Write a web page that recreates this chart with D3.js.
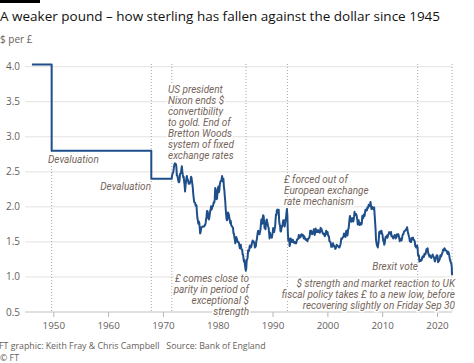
<!DOCTYPE html>
<html><head><meta charset="utf-8">
<script src="https://cdn.jsdelivr.net/npm/d3@7"></script>
<style>
html,body{margin:0;padding:0;background:#fff;}
svg{display:block;font-family:"Open Sans","Noto Sans",sans-serif;}
</style></head>
<body><svg id="c" width="474" height="363"></svg>
<script>
// ---- data ----
const fixedYears = [1946.1, 1949.7, 1949.7, 1967.88, 1967.88, 1971.6];
const fixedRates = [4.03, 4.03, 2.80, 2.80, 2.40, 2.40];
const floatStartYear = 1971.62; // monthly values from Aug 1971
const monthlyRates = [
 2.42,2.46,2.48,2.49,2.53,
 2.58,2.61,2.62,2.61,2.61,2.57,2.45,2.45,2.42,2.38,2.35,2.35,
 2.38,2.47,2.48,2.48,2.53,2.58,2.51,2.46,2.42,2.43,2.36,2.31,
 2.22,2.30,2.36,2.41,2.44,2.39,2.39,2.36,2.33,2.34,2.33,2.35,
 2.37,2.43,2.42,2.37,2.32,2.27,2.18,2.12,2.07,2.06,2.06,2.02,
 2.03,2.02,1.92,1.84,1.81,1.76,1.79,1.78,1.71,1.62,1.64,1.68,
 1.71,1.71,1.72,1.72,1.72,1.72,1.72,1.74,1.74,1.77,1.82,1.86,
 1.94,1.94,1.91,1.84,1.82,1.84,1.89,1.94,1.96,2.01,1.96,1.98,
 2.01,2.01,2.04,2.07,2.06,2.11,2.27,2.24,2.20,2.11,2.12,2.20,
 2.27,2.29,2.21,2.23,2.31,2.35,2.37,2.37,2.39,2.44,2.40,2.36,
 2.40,2.29,2.24,2.15,2.08,1.97,1.89,1.82,1.81,1.84,1.92,1.91,
 1.88,1.84,1.81,1.77,1.80,1.74,1.73,1.72,1.71,1.70,1.62,1.62,
 1.57,1.53,1.48,1.54,1.57,1.55,1.53,1.50,1.50,1.50,1.48,1.44,
 1.41,1.44,1.46,1.41,1.39,1.39,1.32,1.32,1.26,1.22,1.24,1.18,
 1.13,1.09,1.12,1.24,1.25,1.28,1.38,1.38,1.37,1.42,1.45,1.44,
 1.42,1.43,1.47,1.50,1.52,1.51,1.51,1.49,1.47,1.42,1.43,1.44,
 1.51,1.53,1.58,1.63,1.66,1.63,1.61,1.61,1.64,1.67,1.75,1.82,
 1.79,1.76,1.84,1.88,1.87,1.79,1.70,1.70,1.68,1.74,1.81,1.82,
 1.78,1.75,1.72,1.70,1.63,1.55,1.63,1.59,1.57,1.58,1.56,1.60,
 1.64,1.70,1.64,1.64,1.68,1.71,1.80,1.89,1.88,1.95,1.96,1.92,
 1.94,1.96,1.80,1.75,1.73,1.65,1.65,1.69,1.73,1.72,1.77,1.81,
 1.81,1.77,1.72,1.76,1.81,1.84,1.91,1.97,1.88,1.64,1.52,1.55,
 1.54,1.44,1.47,1.55,1.54,1.52,1.50,1.50,1.53,1.50,1.49,1.49,
 1.50,1.48,1.49,1.48,1.50,1.53,1.54,1.54,1.55,1.60,1.59,1.56,
 1.58,1.57,1.60,1.61,1.59,1.59,1.60,1.57,1.55,1.58,1.56,1.54,
 1.53,1.54,1.53,1.52,1.51,1.54,1.55,1.55,1.56,1.59,1.66,1.66,
 1.66,1.63,1.61,1.63,1.63,1.65,1.68,1.61,1.60,1.63,1.69,1.66,
 1.64,1.64,1.66,1.67,1.64,1.65,1.65,1.63,1.68,1.70,1.66,1.68,
 1.65,1.63,1.62,1.61,1.62,1.60,1.58,1.61,1.63,1.66,1.62,1.61,
 1.64,1.60,1.58,1.58,1.51,1.51,1.50,1.48,1.43,1.45,1.43,1.46,
 1.48,1.45,1.45,1.43,1.42,1.40,1.41,1.44,1.46,1.45,1.44,1.44,
 1.43,1.42,1.42,1.44,1.46,1.49,1.55,1.54,1.55,1.56,1.57,1.58,
 1.62,1.61,1.58,1.57,1.62,1.66,1.62,1.59,1.61,1.68,1.69,1.75,
 1.82,1.87,1.83,1.80,1.79,1.83,1.84,1.82,1.79,1.81,1.86,1.93,
 1.88,1.89,1.90,1.89,1.86,1.82,1.75,1.79,1.81,1.76,1.74,1.75,
 1.77,1.75,1.75,1.77,1.87,1.85,1.84,1.89,1.88,1.87,1.92,1.96,
 1.95,1.96,1.95,1.99,1.98,1.99,2.03,2.01,2.02,2.04,2.07,2.02,
 1.97,1.97,2.00,1.98,1.97,1.97,1.99,1.89,1.79,1.69,1.53,1.49,
 1.45,1.44,1.42,1.47,1.52,1.64,1.64,1.65,1.63,1.62,1.66,1.62,
 1.61,1.56,1.51,1.53,1.46,1.48,1.53,1.57,1.56,1.58,1.59,1.56,
 1.58,1.61,1.62,1.64,1.63,1.62,1.61,1.64,1.58,1.58,1.58,1.56,
 1.55,1.58,1.58,1.60,1.59,1.55,1.56,1.57,1.61,1.61,1.59,1.61,
 1.58,1.55,1.51,1.53,1.53,1.55,1.52,1.55,1.59,1.61,1.61,1.64,
 1.65,1.66,1.66,1.67,1.68,1.69,1.71,1.67,1.63,1.61,1.58,1.56,
 1.51,1.53,1.50,1.50,1.55,1.56,1.55,1.56,1.53,1.53,1.52,1.50,
 1.44,1.43,1.42,1.43,1.45,1.42,1.31,1.31,1.31,1.22,1.24,1.24,
 1.23,1.25,1.24,1.27,1.29,1.28,1.30,1.29,1.33,1.32,1.32,1.34,
 1.38,1.40,1.40,1.41,1.35,1.33,1.31,1.29,1.31,1.30,1.29,1.27,
 1.29,1.30,1.32,1.30,1.29,1.27,1.25,1.22,1.24,1.27,1.29,1.31,
 1.31,1.29,1.21,1.24,1.23,1.25,1.26,1.31,1.29,1.30,1.32,1.34,
 1.36,1.39,1.39,1.38,1.41,1.40,1.38,1.38,1.37,1.37,1.34,1.33,
 1.36,1.35,1.32,1.28,1.24,1.23,1.20,1.19,1.13
];
const finalDaysYears = [2022.71, 2022.735, 2022.75];
const finalDaysRates = [1.08, 1.035, 1.07];
const yTicks = [0.5, 1.0, 1.5, 2.0, 2.5, 3.0, 3.5, 4.0];
const xTicks = [1950, 1960, 1970, 1980, 1990, 2000, 2010, 2020];
const eventYears = [1949.7, 1967.88, 1971.62, 1985.15, 1992.71, 2016.48, 2022.75];

// ---- build series ----
const series = fixedYears.map((y, i) => ({t: y, v: fixedRates[i]}));
monthlyRates.forEach((v, i) => series.push({t: floatStartYear + i / 12, v}));
finalDaysYears.forEach((y, i) => series.push({t: y, v: finalDaysRates[i]}));

const svg = d3.select("#c");
const x = d3.scaleLinear().domain([1950, 2020]).range([53.3, 437]);
const y = d3.scaleLinear().domain([0.5, 4.0]).range([312, 66.7]);
const gridL = 25, gridR = 452;
const grey = "#66605c";

// top bar
svg.append("rect").attr("x", 0).attr("y", 0).attr("width", 40).attr("height", 3).attr("fill", "#000");

svg.append("text").attr("x", 0).attr("y", 21).attr("font-size", 14).attr("fill", "#111")
  .attr("id", "title").text("A weaker pound – how sterling has fallen against the dollar since 1945");
svg.append("text").attr("x", 0).attr("y", 43).attr("font-size", 10).attr("fill", grey).text("$ per £");

// grid
svg.append("g").selectAll("line").data(yTicks.filter(d => d > 0.5)).join("line")
  .attr("x1", gridL).attr("x2", gridR).attr("y1", d => y(d)).attr("y2", d => y(d))
  .attr("stroke", "#e4e2e0").attr("stroke-width", 1);
svg.append("g").selectAll("text").data(yTicks).join("text")
  .attr("x", 6).attr("y", d => y(d) + 3.5).attr("font-size", 10).attr("fill", grey)
  .text(d => d.toFixed(1));

// x axis
const xa = svg.append("g").attr("transform", `translate(0,${y(0.5)})`)
  .call(d3.axisBottom(x).tickValues(xTicks).tickFormat(d3.format("d")).tickSize(5).tickPadding(5));
xa.select(".domain").remove();
xa.selectAll("line").attr("stroke", "#b8b4b0");
xa.selectAll("text").attr("font-size", 9.8).attr("fill", grey).attr("font-family", "Open Sans, sans-serif");
svg.append("line").attr("x1", gridL).attr("x2", gridR).attr("y1", y(0.5)).attr("y2", y(0.5))
  .attr("stroke", "#c4c0bc").attr("stroke-width", 1);

// event lines
svg.append("g").selectAll("line").data(eventYears).join("line")
  .attr("x1", d => x(d)).attr("x2", d => x(d)).attr("y1", 64).attr("y2", y(0.5))
  .attr("stroke", "#a9a5a2").attr("stroke-width", 1).attr("stroke-dasharray", "1,2");

// line
svg.append("path").datum(series)
  .attr("d", d3.line().x(d => x(d.t)).y(d => y(d.v)))
  .attr("fill", "none").attr("stroke", "#1f4f8a").attr("stroke-width", 2).attr("stroke-linejoin", "round");

// annotations
const ann = svg.append("g").attr("font-size", 10).attr("font-style", "italic").attr("fill", "#75655a")
  .attr("font-family", "'Liberation Sans Narrow', 'Roboto', sans-serif");
function note(lines, xp, y0, anchor) {
  const t = ann.append("text").attr("text-anchor", anchor)
    .attr("stroke", "#fff").attr("stroke-width", 3).attr("paint-order", "stroke");
  lines.forEach((l, i) => t.append("tspan").attr("x", xp).attr("y", y0 + i * 11.1).text(l));
}
note(["Devaluation"], 48, 163, "start");
note(["Devaluation"], 151, 190, "end");
note(["US president", "Nixon ends $", "convertibility", "to gold. End of", "Bretton Woods", "system of fixed", "exchange rates"], 168, 92.5, "start");
note(["£ comes close to", "parity in period of", "exceptional $", "strength"], 249, 281.5, "end");
note(["£ forced out of", "European exchange", "rate mechanism"], 284, 182.5, "start");
note(["Brexit vote"], 418, 269.5, "end");
note(["$ strength and market reaction to UK", "fiscal policy takes £ to a new low, before", "recovering slightly on Friday Sep 30"], 455, 286.5, "end");

// footer
const foot = svg.append("g").attr("fill", grey).attr("font-size", 8.8);
foot.append("text").attr("x", -1).attr("y", 348.6)
  .text("FT graphic: Keith Fray & Chris Campbell \u00a0 Source: Bank of England");
foot.append("text").attr("x", 0).attr("y", 360.7).text("© FT");

// fit title width to reference (~440px)
const tt = document.getElementById("title");
const w = tt.getComputedTextLength();
tt.setAttribute("font-size", (14 * 440 / w).toFixed(2));
</script></body></html>
